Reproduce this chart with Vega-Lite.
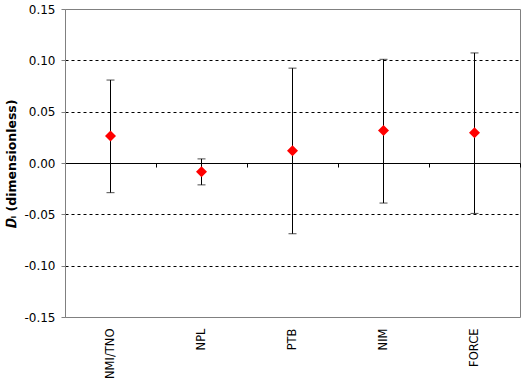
{
  "$schema": "https://vega.github.io/schema/vega-lite/v6.json",
  "width": 455,
  "height": 308,
  "autosize": {"type": "none"},
  "padding": {"left": 65, "top": 9, "right": 2, "bottom": 65},
  "background": "white",
  "config": {
    "view": {"stroke": "#808080", "strokeWidth": 1},
    "font": "DejaVu Sans",
    "axis": {"labelFont": "DejaVu Sans", "titleFont": "DejaVu Sans", "labelColor": "black", "titleColor": "black"}
  },
  "data": {
    "values": [
      {"lab": "NMI/TNO", "d": 0.0263, "lo": -0.0289, "hi": 0.0808},
      {"lab": "NPL", "d": -0.0086, "lo": -0.0213, "hi": 0.0040},
      {"lab": "PTB", "d": 0.0119, "lo": -0.0689, "hi": 0.0924},
      {"lab": "NIM", "d": 0.0317, "lo": -0.0390, "hi": 0.1010},
      {"lab": "FORCE", "d": 0.0294, "lo": -0.0491, "hi": 0.1072}
    ]
  },
  "encoding": {
    "x": {
      "field": "lab",
      "type": "nominal",
      "sort": null,
      "scale": {"paddingInner": 0, "paddingOuter": 0},
      "axis": {
        "title": null,
        "offset": -154,
        "domain": true,
        "domainColor": "black",
        "domainWidth": 1,
        "ticks": true,
        "tickBand": "extent",
        "tickColor": "black",
        "tickSize": 4,
        "labelAngle": -90,
        "labelPadding": 161,
        "labelFontSize": 11.5,
        "grid": false
      }
    }
  },
  "layer": [
    {
      "mark": {"type": "rule", "color": "black", "strokeWidth": 1},
      "encoding": {
        "y": {
          "field": "lo",
          "type": "quantitative",
          "scale": {"domain": [-0.15, 0.15], "nice": false, "zero": false},
          "axis": {
            "title": "𝑫ᵢ (dimensionless)",
            "titleFontSize": 12.5,
            "titleFontWeight": "bold",
            "titlePadding": 5,
            "values": [-0.15, -0.1, -0.05, 0, 0.05, 0.1, 0.15],
            "labelExpr": "(datum.value < -0.0001 ? '-' : '') + format(abs(datum.value), '.2f')",
            "labelFontSize": 12,
            "labelPadding": 6,
            "domainColor": "#808080",
            "tickColor": "#808080",
            "tickSize": 4,
            "grid": true,
            "gridDash": [3, 3],
            "gridColor": {"condition": {"test": "abs(datum.value) > 0.14 || datum.value == 0", "value": "transparent"}, "value": "black"}
          }
        },
        "y2": {"field": "hi"}
      }
    },
    {
      "mark": {"type": "tick", "color": "black", "size": 8, "thickness": 1},
      "encoding": {"y": {"field": "hi", "type": "quantitative"}}
    },
    {
      "mark": {"type": "tick", "color": "black", "size": 8, "thickness": 1},
      "encoding": {"y": {"field": "lo", "type": "quantitative"}}
    },
    {
      "mark": {"type": "point", "shape": "diamond", "filled": true, "color": "#FF0000", "size": 121, "opacity": 1, "strokeWidth": 0},
      "encoding": {"y": {"field": "d", "type": "quantitative"}}
    }
  ]
}
